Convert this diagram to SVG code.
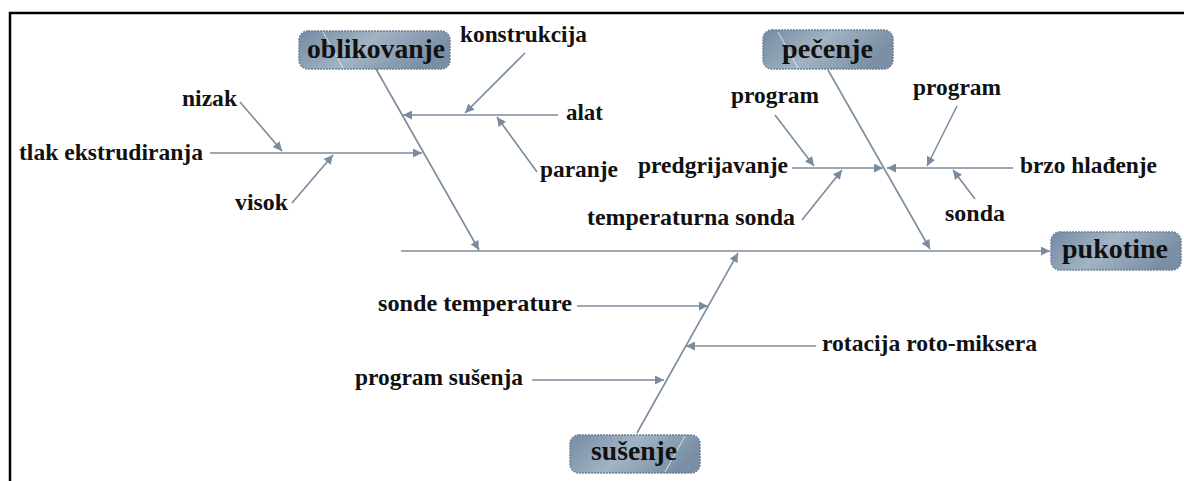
<svg xmlns="http://www.w3.org/2000/svg" width="1184" height="481" viewBox="0 0 1184 481">
<defs>
<linearGradient id="boxg" x1="0" y1="0" x2="1" y2="0.3">
<stop offset="0" stop-color="#748ba3"/>
<stop offset="0.5" stop-color="#a2b3c3"/>
<stop offset="1" stop-color="#7a8fa6"/>
</linearGradient>
<marker id="ah" viewBox="0 0 10 10" refX="10" refY="5" markerWidth="10" markerHeight="9" markerUnits="userSpaceOnUse" orient="auto">
<path d="M0,0 L10,5 L0,10 z" fill="#7a8b9d"/>
</marker>
<style>
.box{fill:url(#boxg);stroke:#6d8196;stroke-width:1.5;stroke-dasharray:2 1}
.gl{stroke:#ffffff;stroke-width:1;opacity:0.7}
.nt{font-family:"Liberation Serif","Times New Roman",serif;font-weight:bold;font-size:27px;fill:#111}
.lt{font-family:"Liberation Serif","Times New Roman",serif;font-weight:bold;font-size:23px;fill:#111}
.cn line{stroke:#7a8b9d;stroke-width:1.6;marker-end:url(#ah)}
</style>
</defs>
<rect width="1184" height="481" fill="#ffffff"/>
<path d="M10,481 L10,13 L1184,13" fill="none" stroke="#000" stroke-width="2.5"/>

<g id="connectors" class="cn">
<line x1="401" y1="251" x2="1050" y2="251"/>
<line x1="376" y1="69" x2="479" y2="250"/>
<line x1="558" y1="115" x2="403" y2="115"/>
<line x1="525" y1="53" x2="465" y2="113"/>
<line x1="537" y1="172" x2="497" y2="117"/>
<line x1="210" y1="153" x2="422" y2="153"/>
<line x1="240" y1="102" x2="282" y2="151"/>
<line x1="292" y1="203" x2="333" y2="155"/>
<line x1="828" y1="70" x2="930" y2="249"/>
<line x1="792" y1="168" x2="883" y2="168"/>
<line x1="1013" y1="168" x2="887" y2="168"/>
<line x1="775" y1="115" x2="814" y2="166"/>
<line x1="802" y1="220" x2="842" y2="170"/>
<line x1="957" y1="106" x2="927" y2="166"/>
<line x1="975" y1="199" x2="953" y2="170"/>
<line x1="637" y1="433" x2="738" y2="253"/>
<line x1="577" y1="306" x2="708" y2="306"/>
<line x1="816" y1="346" x2="686" y2="346"/>
<line x1="532" y1="380" x2="664" y2="380"/>
</g>

<g id="node-oblikovanje">
<rect class="box" x="299" y="31" width="151" height="38" rx="9"/>
<line class="gl" x1="323" y1="32" x2="343" y2="68"/>
<text class="nt" x="307" y="58" textLength="138" lengthAdjust="spacingAndGlyphs">oblikovanje</text>
</g>
<g id="node-pecenje">
<rect class="box" x="763" y="30" width="130" height="39" rx="9"/>
<line class="gl" x1="778" y1="32" x2="798" y2="68"/>
<text class="nt" x="782" y="58" textLength="91" lengthAdjust="spacingAndGlyphs">pečenje</text>
</g>
<g id="node-pukotine">
<rect class="box" x="1051" y="232" width="130" height="38" rx="9"/>
<text class="nt" x="1062" y="258" textLength="106" lengthAdjust="spacingAndGlyphs">pukotine</text>
</g>
<g id="node-susenje">
<rect class="box" x="570" y="435" width="130" height="38" rx="9"/>
<line class="gl" x1="685" y1="436" x2="665" y2="472"/>
<text class="nt" x="591" y="460" textLength="86" lengthAdjust="spacingAndGlyphs">sušenje</text>
</g>

<g id="labels">
<text class="lt" x="19" y="160" textLength="184" lengthAdjust="spacingAndGlyphs">tlak ekstrudiranja</text>
<text class="lt" x="182" y="106" textLength="55" lengthAdjust="spacingAndGlyphs">nizak</text>
<text class="lt" x="235" y="210" textLength="53" lengthAdjust="spacingAndGlyphs">visok</text>
<text class="lt" x="460" y="42" textLength="127" lengthAdjust="spacingAndGlyphs">konstrukcija</text>
<text class="lt" x="566" y="120" textLength="37" lengthAdjust="spacingAndGlyphs">alat</text>
<text class="lt" x="540" y="177" textLength="78" lengthAdjust="spacingAndGlyphs">paranje</text>
<text class="lt" x="638" y="173" textLength="150" lengthAdjust="spacingAndGlyphs">predgrijavanje</text>
<text class="lt" x="587" y="225" textLength="208" lengthAdjust="spacingAndGlyphs">temperaturna sonda</text>
<text class="lt" x="731" y="103" textLength="88" lengthAdjust="spacingAndGlyphs">program</text>
<text class="lt" x="913" y="95" textLength="88" lengthAdjust="spacingAndGlyphs">program</text>
<text class="lt" x="1020" y="173" textLength="137" lengthAdjust="spacingAndGlyphs">brzo hlađenje</text>
<text class="lt" x="945" y="221" textLength="60" lengthAdjust="spacingAndGlyphs">sonda</text>
<text class="lt" x="378" y="311" textLength="194" lengthAdjust="spacingAndGlyphs">sonde temperature</text>
<text class="lt" x="355" y="385" textLength="168" lengthAdjust="spacingAndGlyphs">program sušenja</text>
<text class="lt" x="822" y="351" textLength="215" lengthAdjust="spacingAndGlyphs">rotacija roto-miksera</text>
</g>
</svg>
